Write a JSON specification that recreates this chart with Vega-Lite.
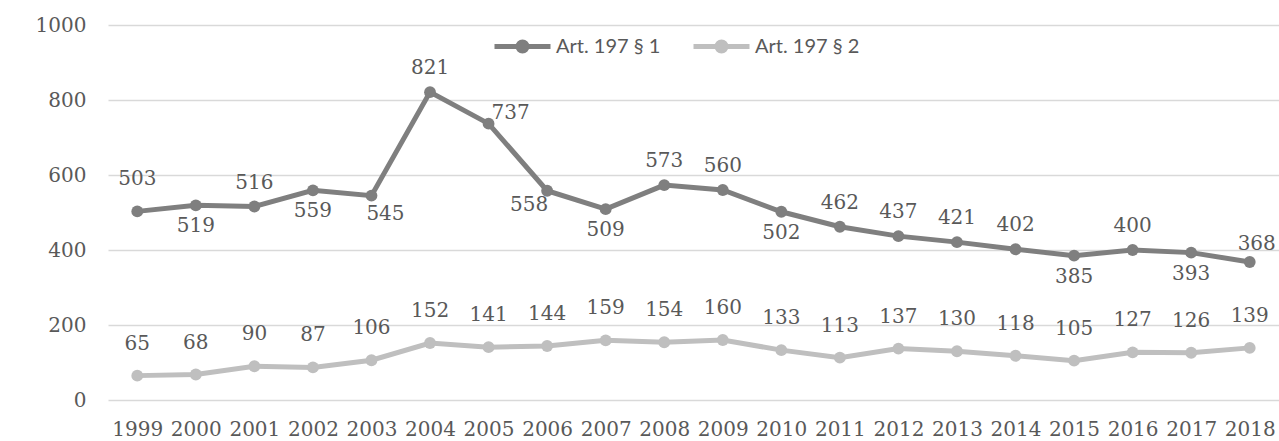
{
  "$schema": "https://vega.github.io/schema/vega-lite/v6.json",
  "autosize": "none",
  "width": 1171,
  "height": 375,
  "padding": {"left": 108, "top": 25, "right": 0, "bottom": 41},
  "background": "white",
  "config": {
    "view": {"stroke": null},
    "font": "DejaVu Serif",
    "axis": {"labelFont": "DejaVu Serif", "labelFontSize": 20, "labelColor": "#595959", "gridColor": "#d9d9d9", "gridWidth": 1.5, "domain": false, "ticks": false}
  },
  "data": {
    "values": [
      {"year": "1999", "series": "Art. 197 § 1", "value": 503},
      {"year": "2000", "series": "Art. 197 § 1", "value": 519},
      {"year": "2001", "series": "Art. 197 § 1", "value": 516},
      {"year": "2002", "series": "Art. 197 § 1", "value": 559},
      {"year": "2003", "series": "Art. 197 § 1", "value": 545},
      {"year": "2004", "series": "Art. 197 § 1", "value": 821},
      {"year": "2005", "series": "Art. 197 § 1", "value": 737},
      {"year": "2006", "series": "Art. 197 § 1", "value": 558},
      {"year": "2007", "series": "Art. 197 § 1", "value": 509},
      {"year": "2008", "series": "Art. 197 § 1", "value": 573},
      {"year": "2009", "series": "Art. 197 § 1", "value": 560},
      {"year": "2010", "series": "Art. 197 § 1", "value": 502},
      {"year": "2011", "series": "Art. 197 § 1", "value": 462},
      {"year": "2012", "series": "Art. 197 § 1", "value": 437},
      {"year": "2013", "series": "Art. 197 § 1", "value": 421},
      {"year": "2014", "series": "Art. 197 § 1", "value": 402},
      {"year": "2015", "series": "Art. 197 § 1", "value": 385},
      {"year": "2016", "series": "Art. 197 § 1", "value": 400},
      {"year": "2017", "series": "Art. 197 § 1", "value": 393},
      {"year": "2018", "series": "Art. 197 § 1", "value": 368},
      {"year": "1999", "series": "Art. 197 § 2", "value": 65},
      {"year": "2000", "series": "Art. 197 § 2", "value": 68},
      {"year": "2001", "series": "Art. 197 § 2", "value": 90},
      {"year": "2002", "series": "Art. 197 § 2", "value": 87},
      {"year": "2003", "series": "Art. 197 § 2", "value": 106},
      {"year": "2004", "series": "Art. 197 § 2", "value": 152},
      {"year": "2005", "series": "Art. 197 § 2", "value": 141},
      {"year": "2006", "series": "Art. 197 § 2", "value": 144},
      {"year": "2007", "series": "Art. 197 § 2", "value": 159},
      {"year": "2008", "series": "Art. 197 § 2", "value": 154},
      {"year": "2009", "series": "Art. 197 § 2", "value": 160},
      {"year": "2010", "series": "Art. 197 § 2", "value": 133},
      {"year": "2011", "series": "Art. 197 § 2", "value": 113},
      {"year": "2012", "series": "Art. 197 § 2", "value": 137},
      {"year": "2013", "series": "Art. 197 § 2", "value": 130},
      {"year": "2014", "series": "Art. 197 § 2", "value": 118},
      {"year": "2015", "series": "Art. 197 § 2", "value": 105},
      {"year": "2016", "series": "Art. 197 § 2", "value": 127},
      {"year": "2017", "series": "Art. 197 § 2", "value": 126},
      {"year": "2018", "series": "Art. 197 § 2", "value": 139}
    ]
  },
  "encoding": {
    "x": {"field": "year", "type": "ordinal", "scale": {"type": "point", "padding": 0.5}, "axis": {"title": null, "labelAngle": 0, "labelPadding": 19, "grid": false}},
    "y": {"field": "value", "type": "quantitative", "scale": {"domain": [0, 1000]}, "axis": {"title": null, "format": "d", "values": [0, 200, 400, 600, 800, 1000], "labelPadding": 22, "grid": true}}
  },
  "layer": [
    {
      "mark": {"type": "line", "strokeWidth": 5, "point": {"filled": true, "size": 140, "opacity": 1}},
      "encoding": {
        "color": {
          "field": "series", "type": "nominal",
          "scale": {"domain": ["Art. 197 § 1", "Art. 197 § 2"], "range": ["#7f7f7f", "#bfbfbf"]},
          "legend": {
            "title": null, "orient": "none", "direction": "horizontal",
            "legendX": 384, "legendY": -9,
            "symbolType": "M-1,0L1,0M-0.16,0A0.16,0.16,0,1,0,0.16,0A0.16,0.16,0,1,0,-0.16,0Z",
            "symbolSize": 3136, "symbolStrokeWidth": 5,
            "labelFont": "Lato", "labelFontSize": 20, "labelColor": "#595959",
            "labelOffset": 3, "columnPadding": 22,
            "encode": {"symbols": {"update": {"fill": {"scale": "color", "field": "value"}, "stroke": {"scale": "color", "field": "value"}, "opacity": {"value": 1}}}}
          }
        }
      }
    },
    {
      "transform": [{"filter": "datum.series == 'Art. 197 § 2' || datum.year == '1999'"}],
      "mark": {"type": "text", "dy": -32, "fontSize": 20, "font": "DejaVu Serif", "color": "#595959"},
      "encoding": {"text": {"field": "value"}}
    },
    {
      "transform": [{"filter": "datum.series == 'Art. 197 § 1' && indexof(['2001','2004','2008','2009','2011','2012','2013','2014','2016'], datum.year) >= 0"}],
      "mark": {"type": "text", "dy": -24, "fontSize": 20, "font": "DejaVu Serif", "color": "#595959"},
      "encoding": {"text": {"field": "value"}}
    },
    {
      "transform": [{"filter": "datum.series == 'Art. 197 § 1' && indexof(['2000','2002','2007','2010','2015','2017'], datum.year) >= 0"}],
      "mark": {"type": "text", "dy": 21, "fontSize": 20, "font": "DejaVu Serif", "color": "#595959"},
      "encoding": {"text": {"field": "value"}}
    },
    {
      "transform": [{"filter": "datum.series == 'Art. 197 § 1' && datum.year == '2003'"}],
      "mark": {"type": "text", "dx": 14, "dy": 18, "fontSize": 20, "font": "DejaVu Serif", "color": "#595959"},
      "encoding": {"text": {"field": "value"}}
    },
    {
      "transform": [{"filter": "datum.series == 'Art. 197 § 1' && datum.year == '2005'"}],
      "mark": {"type": "text", "dx": 22, "dy": -11, "fontSize": 20, "font": "DejaVu Serif", "color": "#595959"},
      "encoding": {"text": {"field": "value"}}
    },
    {
      "transform": [{"filter": "datum.series == 'Art. 197 § 1' && datum.year == '2006'"}],
      "mark": {"type": "text", "dx": -18, "dy": 14, "fontSize": 20, "font": "DejaVu Serif", "color": "#595959"},
      "encoding": {"text": {"field": "value"}}
    },
    {
      "transform": [{"filter": "datum.series == 'Art. 197 § 1' && datum.year == '2018'"}],
      "mark": {"type": "text", "dx": 7, "dy": -18, "fontSize": 20, "font": "DejaVu Serif", "color": "#595959"},
      "encoding": {"text": {"field": "value"}}
    }
  ]
}
